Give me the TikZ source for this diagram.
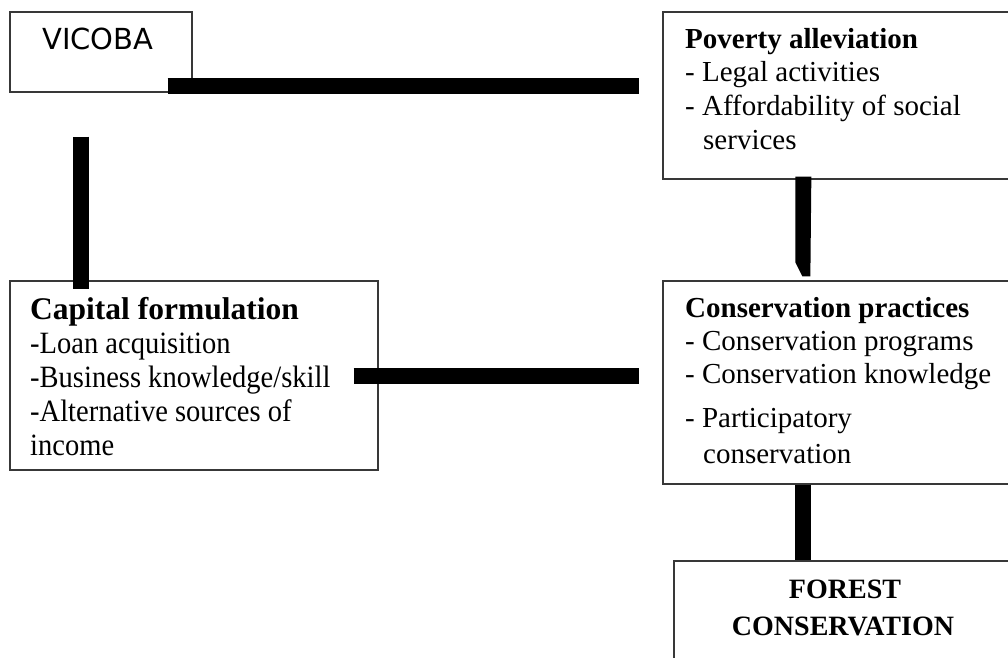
\documentclass[tikz,border=0pt]{standalone}
\usepackage{fontspec}
\usepackage{graphicx}
\setmainfont{Liberation Serif}
\newfontfamily\dejavu{DejaVu Sans}
\usetikzlibrary{calc}
\newcommand\cnd[1]{\scalebox{0.92}[1]{#1}}
\begin{document}
\begin{tikzpicture}[x=1pt,y=-1pt,
  box/.style={draw=black!78,line width=1.3pt,rectangle,inner sep=0pt,fill=white},
  txt/.style={inner sep=0pt,anchor=base west,font=\fontsize{29}{34}\selectfont},
  bar/.style={line width=16pt,line cap=butt,draw=black}]
\useasboundingbox (0,0) rectangle (1008,657);
\fill[white] (0,0) rectangle (1008,657);
% boxes
\node[box,minimum width=182pt,minimum height=80pt] (vicoba) at (101,52) {};
\node[box,minimum width=352pt,minimum height=167pt] (poverty) at (839,95.5) {};
\node[box,minimum width=368pt,minimum height=189pt] (capital) at (194,375.5) {};
\node[box,minimum width=352pt,minimum height=203pt] (conserv) at (839,382.5) {};
\node[box,minimum width=341pt,minimum height=109pt] (forest) at (844.5,615.5) {};
% texts
\node[txt,font=\dejavu\fontsize{29}{34}\selectfont] (tv) at (42,49) {VICOBA};
\node[txt] (tp0) at (685,48) {\textbf{Poverty alleviation}};
\node[txt] (tp1) at (685,81) {- Legal activities};
\node[txt] (tp2) at (685,115) {- Affordability of social};
\node[txt] (tp3) at (703,149) {services};
\node[txt,font=\fontsize{31.5}{34}\selectfont] (tc0) at (30,319) {\textbf{Capital formulation}};
\node[txt,font=\fontsize{31}{34}\selectfont] (tc1) at (30,353) {\cnd{-Loan acquisition}};
\node[txt,font=\fontsize{31}{34}\selectfont] (tc2) at (30,387) {\cnd{-Business knowledge/skill}};
\node[txt,font=\fontsize{31}{34}\selectfont] (tc3) at (30,421) {\cnd{-Alternative sources of}};
\node[txt,font=\fontsize{31}{34}\selectfont] (tc4) at (30,455) {\cnd{income}};
\node[txt] (tk0) at (685,317) {\textbf{Conservation practices}};
\node[txt] (tk1) at (685,350) {- Conservation programs};
\node[txt] (tk2) at (685,383) {- Conservation knowledge};
\node[txt] (tk3) at (685,427) {- Participatory};
\node[txt] (tk4) at (703,463) {conservation};
\node[txt,anchor=base,font=\fontsize{28}{34}\selectfont] (tf0) at (845,598) {\textbf{FOREST}};
\node[txt,anchor=base,font=\fontsize{28}{34}\selectfont] (tf1) at (843,635) {\textbf{CONSERVATION}};
% connector end points
\coordinate (t1) at ($(vicoba.south east)+(-25,-7)$);
\coordinate (t2) at ($(poverty.west |- t1)+(-23,0)$);
\coordinate (l1) at ($(vicoba.south west)+(72,44)$);
\coordinate (l2) at ($(capital.north west)+(72,9)$);
\coordinate (m1) at ($(capital.east)+(-25,0)$);
\coordinate (m2) at ($(conserv.west |- m1)+(-23,0)$);
\coordinate (r1) at ($(poverty.south west)+(141,-3)$);
\coordinate (r2) at ($(conserv.north west)+(141,-4)$);
\coordinate (s1) at ($(conserv.south west)+(141,0)$);
\coordinate (s2) at ($(forest.north west)+(130,0)$);
% connectors
\draw[bar] (t1) -- (t2);
\draw[bar] (l1) -- (l2);
\draw[bar] (m1) -- (m2);
\fill[black] ($(r1)+(-8,0)$) -- ($(r1)+(8,0)$) -- ($(r2)+(7,0)$) -- ($(r2)+(-1,0)$) -- ($(r2)+(-8,-14)$) -- cycle;
\draw[bar] (s1) -- (s2);
\end{tikzpicture}
\end{document}
